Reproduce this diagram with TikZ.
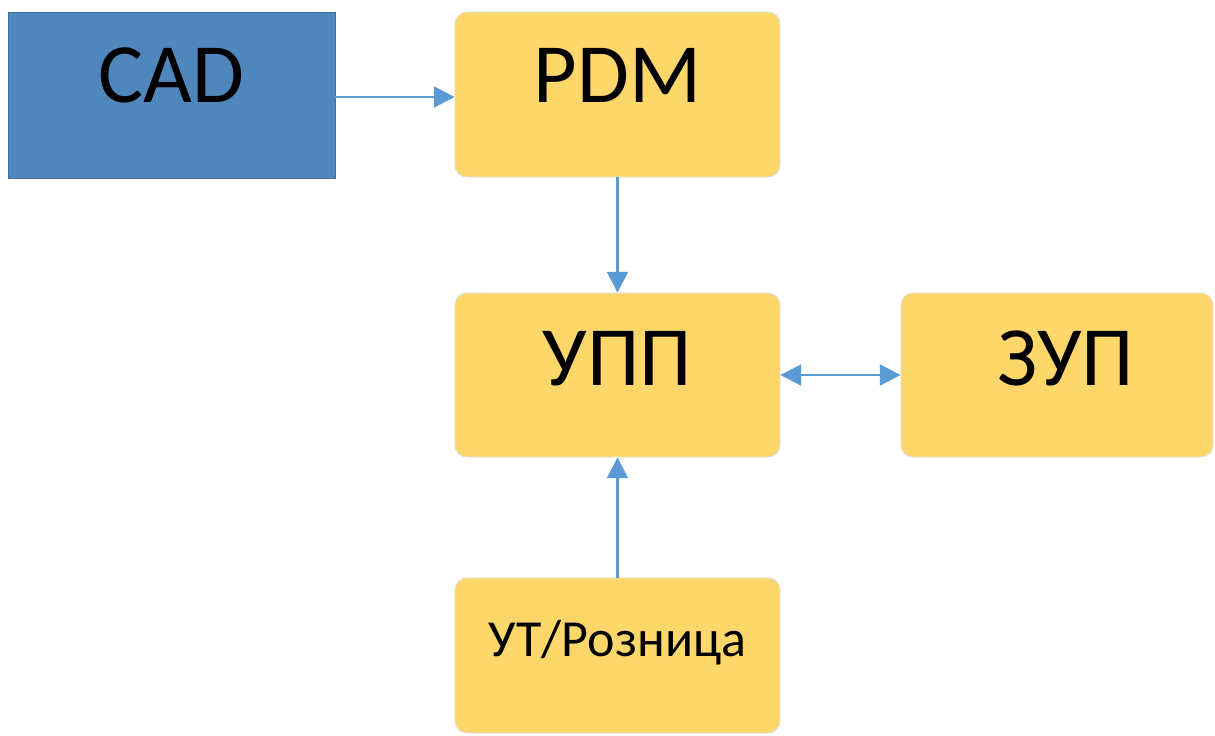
\documentclass[tikz,border=0pt]{standalone}
\usepackage{fontspec}
\setmainfont{Carlito}
\usetikzlibrary{arrows.meta}
\definecolor{cadblue}{RGB}{79,135,189}
\definecolor{cadedge}{RGB}{65,113,156}
\definecolor{boxgold}{RGB}{253,215,106}
\definecolor{linkblue}{RGB}{91,155,213}
\begin{document}
\begin{tikzpicture}[
		cadbox/.style={draw=cadedge, line width=0.6pt, fill=cadblue, minimum width=8.175cm, minimum height=4.15cm, inner sep=0pt},
		sysbox/.style={draw=black!13, line width=0.6pt, fill=boxgold, rounded corners=0.3cm, minimum width=8.125cm, minimum height=4.1cm, inner sep=0pt},
		bigtxt/.style={anchor=base, font=\fontsize{60}{60}\selectfont},
		smalltxt/.style={anchor=base, font=\fontsize{37}{37}\selectfont},
		tip/.tip={Triangle[length=0.52cm, width=0.52cm]},
		link/.style={draw=linkblue, line width=2pt, -tip},
	]
			%%%%% START %%%%%
			\useasboundingbox (0, 0) rectangle (30.375, -18.375);
			
			\node[cadbox] (cad) at (4.2875, -2.375) {};
			\node[sysbox, minimum height=4.125cm] (pdm) at (15.4375, -2.3625) {};
			\node[sysbox] (upp) at (15.4375, -9.375) {};
			\node[sysbox, minimum width=7.8cm] (zup) at (26.425, -9.375) {};
			\node[sysbox, minimum height=3.875cm] (ut) at (15.4375, -16.3875) {};
			
			\node[bigtxt] (cadtxt) at ([yshift=-0.175cm]cad.center) {CAD};
			\node[bigtxt] (pdmtxt) at ([yshift=-0.19cm]pdm.center) {PDM};
			\node[bigtxt] (upptxt) at ([yshift=-0.25cm]upp.center) {УПП};
			\node[bigtxt] (zuptxt) at ([xshift=0.22cm, yshift=-0.25cm]zup.center) {ЗУП};
			\node[smalltxt] (uttxt) at ([yshift=-0.03cm]ut.center) {УТ/Розница};
			
			\coordinate (cadout) at ([yshift=-0.05cm]cad.east);
			\draw[link] (cadout) -- (pdm.west |- cadout);
			\draw[link] (pdm.south) -- (upp.north);
			\draw[link, tip-tip] (upp.east) -- (zup.west);
			\draw[link] (ut.north) -- (upp.south);
			%%%%% END %%%%%
		\end{tikzpicture}
\end{document}
